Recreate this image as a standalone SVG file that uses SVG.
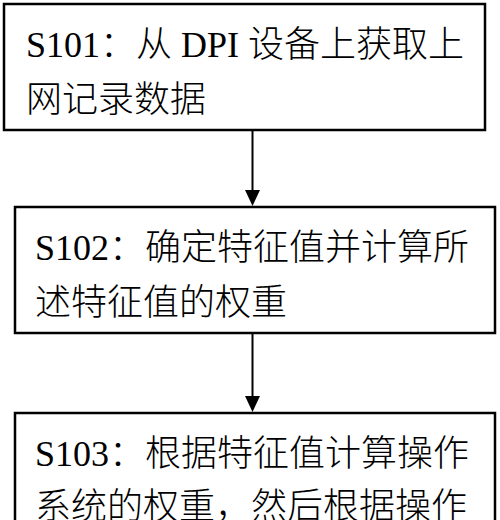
<svg xmlns="http://www.w3.org/2000/svg" width="500" height="520" viewBox="0 0 500 520">
<defs>
<style>
.box{fill:#fff;stroke:#000;stroke-width:2.5}
.t{font-family:"Liberation Serif","Noto Sans CJK SC",serif;font-size:36px;font-weight:300;fill:#000}
.c{stroke:#000;stroke-width:2;fill:none}
</style>
</defs>
<rect width="500" height="520" fill="#fff"/>
<g id="connectors">
<line class="c" x1="252.5" y1="131" x2="252.5" y2="190"/>
<path d="M245,190 L260,190 L252.5,206 Z" fill="#000"/>
<line class="c" x1="252.5" y1="334" x2="252.5" y2="396"/>
<path d="M245,396 L260,396 L252.5,412 Z" fill="#000"/>
</g>
<g id="s101">
<rect class="box" x="4" y="4" width="481" height="126"/>
<text class="t" x="26" y="57">S101：从 DPI 设备上获取上</text>
<text class="t" x="26" y="112">网记录数据</text>
</g>
<g id="s102">
<rect class="box" x="15" y="207" width="480" height="126"/>
<text class="t" x="35" y="260">S102：确定特征值并计算所</text>
<text class="t" x="35" y="315">述特征值的权重</text>
</g>
<g id="s103">
<rect class="box" x="15" y="413" width="480" height="160"/>
<text class="t" x="35" y="466">S103：根据特征值计算操作</text>
<text class="t" x="35" y="519">系统的权重，然后根据操作</text>
</g>
</svg>
